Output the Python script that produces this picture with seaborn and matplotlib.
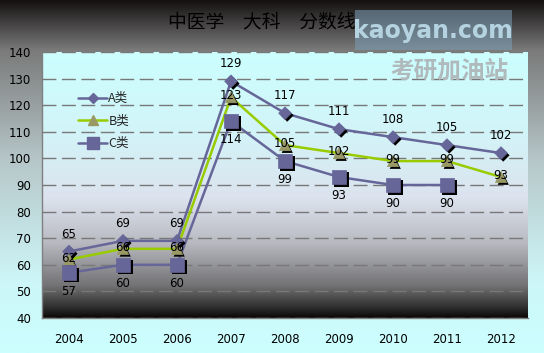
import numpy as np
import pandas as pd
import matplotlib
matplotlib.use("Agg")
import matplotlib.pyplot as plt
import seaborn as sns
import matplotlib.patheffects as pe
from matplotlib.colors import LinearSegmentedColormap
from matplotlib.lines import Line2D
from matplotlib.patches import Rectangle

# ---------------- data ----------------
years = ["2004", "2005", "2006", "2007", "2008", "2009", "2010", "2011", "2012"]
series_a = [65, 69, 69, 129, 117, 111, 108, 105, 102]
series_b = [62, 66, 66, 123, 105, 102, 99, 99, 93]
series_c = [57, 60, 60, 114, 99, 93, 90, 90, np.nan]
names = ["A类", "B类", "C类"]
title = "中医学　大科　分数线"
yticks = [40, 50, 60, 70, 80, 90, 100, 110, 120, 130, 140]

sns.set_theme(style="white")
plt.rcParams["font.family"] = ["Noto Sans CJK SC", "DejaVu Sans"]

W, H = 544, 353
fig = plt.figure(figsize=(W / 100, H / 100), dpi=100)

# outer background gradient
bg = fig.add_axes([0, 0, 1, 1], zorder=-10)
cmap_out = LinearSegmentedColormap.from_list(
    "outer", [(0, "#151111"), (0.14, "#7a7a7a"), (0.45, "#b6c6c8"),
              (0.8, "#cdf6f8"), (1, "#ccffff")])
bg.imshow(np.linspace(0, 1, 256)[:, None], aspect="auto", cmap=cmap_out,
          extent=[0, 1, 0, 1])
bg.set_axis_off()

# plot axes
l, r, t, b = 42, 528, 52, 318
ax = fig.add_axes([l / W, 1 - b / H, (r - l) / W, (b - t) / H])
ax.patch.set_alpha(0)
cmap_in = LinearSegmentedColormap.from_list(
    "inner", [(0, "#ccffff"), (0.3, "#d2f4f8"), (0.55, "#dce3ee"),
              (0.72, "#b8b9c0"), (0.88, "#727274"), (0.96, "#303030"), (1, "#0c0808")])
n = len(years)
ax.imshow(np.linspace(0, 1, 256)[:, None], aspect="auto", cmap=cmap_in,
          extent=[-0.5, n - 0.5, 40, 140], zorder=0)

x = list(range(n))
df = pd.DataFrame({
    "x": x * 3,
    "value": series_a + series_b + series_c,
    "series": [names[0]] * n + [names[1]] * n + [names[2]] * n,
})

col_a = "#666699"
col_b = "#99cc00"
col_c = "#666699"
palette = {names[0]: col_a, names[1]: col_b, names[2]: col_c}

sns.lineplot(data=df, x="x", y="value", hue="series", palette=palette,
             legend=False, linewidth=1.8, ax=ax, zorder=3)

shadow = [pe.SimplePatchShadow(offset=(1.6, -1.6), shadow_rgbFace="black", alpha=1), pe.Normal()]
sns.scatterplot(data=df[df.series == names[0]], x="x", y="value", marker="D",
                s=42, color=col_a, edgecolor=col_a, linewidth=0.5, ax=ax,
                zorder=4, path_effects=shadow, legend=False)
sns.scatterplot(data=df[df.series == names[1]], x="x", y="value", marker="^",
                s=65, color="#999966", edgecolor="#999966", linewidth=0.5, ax=ax,
                zorder=4, path_effects=shadow, legend=False)
sns.scatterplot(data=df[df.series == names[2]].dropna(), x="x", y="value", marker="s",
                s=110, color=col_c, edgecolor=col_c, linewidth=0.5, ax=ax,
                zorder=4, path_effects=shadow, legend=False)

# data labels
for xi, v in zip(x, series_a):
    ax.annotate(f"{v:g}", (xi, v), xytext=(0, 12.5), textcoords="offset points",
                ha="center", va="center", fontsize=8.5, color="black", zorder=6,
                family="DejaVu Sans")
for xi, v in zip(x, series_b):
    ax.annotate(f"{v:g}", (xi, v), xytext=(0, 1), textcoords="offset points",
                ha="center", va="center", fontsize=8.5, color="black", zorder=6,
                family="DejaVu Sans")
for xi, v in zip(x, series_c):
    if np.isnan(v):
        continue
    ax.annotate(f"{v:g}", (xi, v), xytext=(0, -13.5), textcoords="offset points",
                ha="center", va="center", fontsize=8.5, color="black", zorder=6,
                family="DejaVu Sans")

# axes styling
ax.set_xlim(-0.5, n - 0.5)
ax.set_ylim(40, 140)
ax.set_yticks(yticks)
ax.set_yticklabels([str(v) for v in yticks], fontsize=8.5, family="DejaVu Sans")
ax.set_xticks(x)
ax.set_xticklabels(years, fontsize=8.5, family="DejaVu Sans")
ax.set_xticks([i - 0.5 for i in range(n + 1)], minor=True)
ax.tick_params(axis="x", which="major", length=0, pad=11, colors="black")
ax.tick_params(axis="x", which="minor", length=4, direction="out", color="#808080")
ax.tick_params(axis="y", length=5, direction="out", color="#808080", pad=3, colors="black")
ax.tick_params(axis="y", color="#808080")
ax.set_xlabel("")
ax.set_ylabel("")
for s in ["top", "right"]:
    ax.spines[s].set_visible(False)
for s in ["left", "bottom"]:
    ax.spines[s].set_color("#808080")
    ax.spines[s].set_linewidth(1)
ax.yaxis.grid(True, color="#787878", linestyle=(0, (10, 4)), linewidth=1, zorder=1)
ax.set_axisbelow(False)
for gl in ax.get_ygridlines():
    gl.set_zorder(1)

# legend
handles = [
    Line2D([], [], color=col_a, marker="D", markersize=5, lw=1.8),
    Line2D([], [], color=col_b, marker="^", markersize=7, markerfacecolor="#999966",
           markeredgecolor="#999966", lw=1.8),
    Line2D([], [], color=col_c, marker="s", markersize=8, lw=1.8),
]
leg = ax.legend(handles, names, loc="upper left", bbox_to_anchor=(0.062, 0.872),
                frameon=False, handlelength=2.3, handletextpad=0.1, labelspacing=0.75,
                fontsize=9, borderpad=0)
leg.set_zorder(7)

# title
fig.text(262 / W, 1 - 22 / H, title, ha="center", va="center", fontsize=13.5,
         color="black")

# watermarks
fig.patches.append(Rectangle((355 / W, 1 - 50 / H), 157 / W, 40 / H,
                             transform=fig.transFigure, facecolor="#7b9fb6",
                             alpha=0.55, edgecolor="none", zorder=5))
fig.text(433 / W, 1 - 31 / H, "kaoyan.com", ha="center", va="center", fontsize=17,
         color="#b4d2e0", family="DejaVu Sans", fontweight="bold", zorder=6)
fig.text(449 / W, 1 - 71 / H, "考研加油站", ha="center", va="center", fontsize=17,
         color="#b0babc", fontweight="bold", zorder=6)

fig.savefig("out.png", dpi=100)
